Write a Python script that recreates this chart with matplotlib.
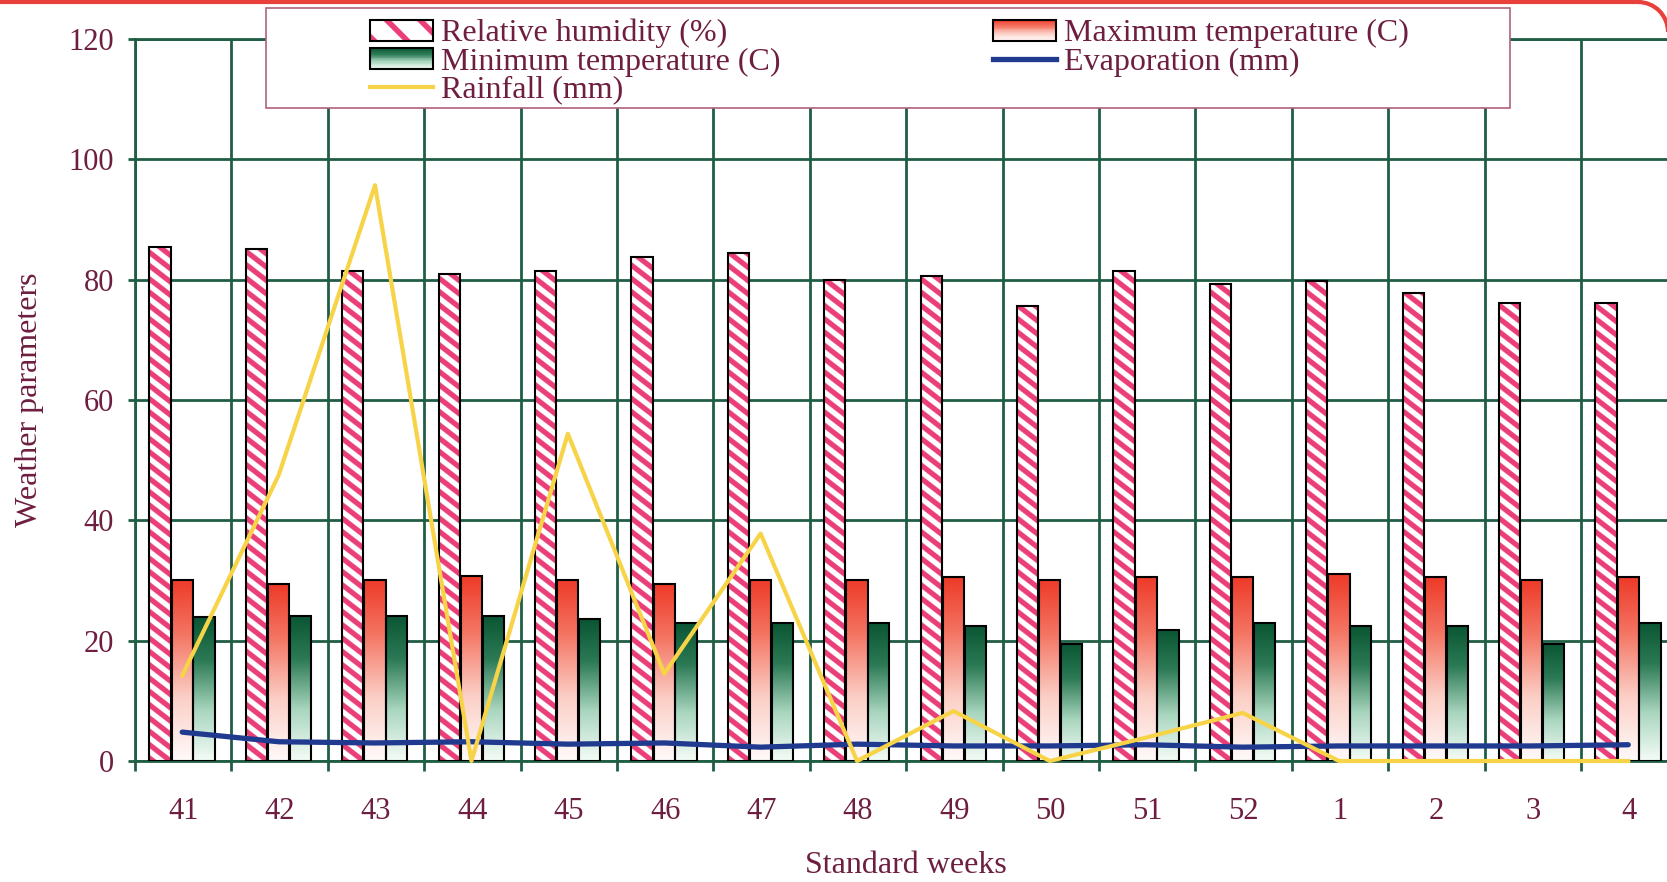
import numpy as np
import matplotlib
matplotlib.use("Agg")
import matplotlib.pyplot as plt
from matplotlib.patches import Rectangle, Patch, Arc
from matplotlib.colors import LinearSegmentedColormap, to_rgb
from matplotlib.legend_handler import HandlerBase
from matplotlib.lines import Line2D

# ---------------- data ----------------
weeks = ['41', '42', '43', '44', '45', '46', '47', '48', '49', '50', '51', '52',
         '1', '2', '3', '4']
rel_humidity = [85.4, 85.1, 81.4, 81.0, 81.5, 83.8, 84.5, 79.9, 80.6, 75.7, 81.5,
                79.2, 79.8, 77.8, 76.2, 76.2]
max_temp = [30.1, 29.4, 30.1, 30.8, 30.1, 29.4, 30.1, 30.1, 30.5, 30.1, 30.5, 30.5,
            31.0, 30.5, 30.1, 30.5]
min_temp = [23.9, 24.1, 24.1, 24.1, 23.6, 22.9, 23.0, 22.9, 22.5, 19.5, 21.8, 22.9,
            22.5, 22.5, 19.5, 23.0]
rainfall = [14.2, 47.5, 95.7, 0.0, 54.4, 14.5, 37.8, 0.0, 8.3, 0.0, 3.9, 8.0,
            0.0, 0.0, 0.0, 0.0]
evaporation = [4.8, 3.2, 3.0, 3.2, 2.8, 3.0, 2.3, 2.8, 2.5, 2.5, 2.7, 2.3,
               2.5, 2.5, 2.5, 2.7]
labels = ['Relative humidity (%)', 'Maximum temperature (C)',
          'Minimum temperature (C)', 'Evaporation (mm)', 'Rainfall (mm)']

# ---------------- style ----------------
plt.rcParams['font.family'] = ['Liberation Serif', 'DejaVu Serif']
plt.rcParams['hatch.linewidth'] = 4.0

grid_c = '#1f5e45'
text_c = '#6e1e40'
pink = '#ea3f78'
yellow = '#f7d348'
blue = '#1f3a8f'
red_cmap = LinearSegmentedColormap.from_list(
    'red', [(0, '#fffafa'), (0.35, '#fbcfc6'), (0.7, '#f47462'), (1, '#ee3a28')])
green_cmap = LinearSegmentedColormap.from_list(
    'green', [(0, '#f5fcf7'), (0.35, '#a9d6bf'), (0.7, '#2c7a55'), (1, '#0a5533')])

W, H = 1667, 882
AX_H = 722
fig = plt.figure(figsize=(W / 100, H / 100), dpi=100)
fig.patch.set_facecolor('white')
cat = 96.4
ax = fig.add_axes([135 / W, 121 / H, 16 * cat / W, AX_H / H])
px_per_y = AX_H / 120.0

x = np.arange(len(weeks))
bw = 0.22
off_rh, off_max, off_min = -0.24, -0.01, 0.215

# hatched relative humidity bars (diagonal stripes drawn as an image inside each bar)
rh_bars = ax.bar(x + off_rh, rel_humidity, bw, facecolor='none', edgecolor='black',
                 linewidth=1.5, zorder=3)
period = 13.3
slope = 0.8
pink_rgb = np.array(to_rgb(pink))
white_rgb = np.ones(3)
for p in rh_bars.patches:
    s = 4
    nx = max(int(round(p.get_width() * cat * s)), 1)
    ny = max(int(round(p.get_height() * px_per_y * s)), 1)
    u = (np.arange(nx) + 0.5) / s
    v = (np.arange(ny) + 0.5) / s
    phase = ((slope * u[None, :] + v[:, None]) % period) / period
    m = (phase < 0.5).astype(float)[..., None]
    rgb = m * pink_rgb + (1 - m) * white_rgb
    x0 = p.get_x()
    ax.imshow(rgb, extent=[x0, x0 + p.get_width(), 0, p.get_height()],
              origin='lower', aspect='auto', interpolation='antialiased', zorder=2)

grad = np.linspace(0, 1, 256).reshape(-1, 1)


def gradient_bars(xpos, vals, cmap):
    bars = ax.bar(xpos, vals, bw, facecolor='none', edgecolor='black',
                  linewidth=1.5, zorder=3)
    for p in bars.patches:
        x0, y0 = p.get_x(), p.get_y()
        im = ax.imshow(grad, extent=[x0, x0 + p.get_width(), y0, y0 + p.get_height()],
                       origin='lower', cmap=cmap, aspect='auto', zorder=2,
                       interpolation='bilinear')
        im.set_clip_path(p)
    return bars


gradient_bars(x + off_max, max_temp, red_cmap)
gradient_bars(x + off_min, min_temp, green_cmap)

ax.plot(x + off_max, evaporation, color=blue, lw=3.8, zorder=4,
        solid_capstyle='round', clip_on=False)
ax.plot(x + off_max, rainfall, color=yellow, lw=3.0, zorder=5, clip_on=False)

# ---------------- axes ----------------
ax.set_xlim(-0.5, 15.5)
ax.set_ylim(0, 120)
ax.set_yticks(range(0, 121, 20))
ax.set_xticks(x)
ax.set_xticklabels(weeks)
ax.set_xticks(np.arange(-0.5, len(weeks), 1), minor=True)
ax.set_axisbelow(True)
ax.grid(True, which='minor', axis='x', color=grid_c, lw=2)
ax.grid(True, which='major', axis='y', color=grid_c, lw=2)
ax.tick_params(axis='x', which='major', length=0, pad=26, labelsize=22,
               labelcolor=text_c)
ax.tick_params(axis='x', which='minor', length=7, width=2, color=grid_c)
ax.tick_params(axis='y', length=5, width=2, color=grid_c, pad=10, labelsize=22,
               labelcolor=text_c)
for s_ in ax.spines.values():
    s_.set_color(grid_c)
    s_.set_linewidth(2)
ax.set_xlabel('Standard weeks', fontsize=23, color=text_c, labelpad=18)
ax.set_ylabel('Weather parameters', fontsize=23, color=text_c, labelpad=18)


# ---------------- legend ----------------
class GradHandler(HandlerBase):
    def __init__(self, cmap):
        super().__init__()
        self.cmap = cmap

    def create_artists(self, legend, orig_handle, xdescent, ydescent, width, height,
                       fontsize, trans):
        arts = []
        n = 24
        for k in range(n):
            r = Rectangle((-xdescent, -ydescent + height * k / n), width,
                          height / n * 1.1, facecolor=self.cmap((k + 0.5) / n),
                          edgecolor='none', transform=trans)
            arts.append(r)
        arts.append(Rectangle((-xdescent, -ydescent), width, height, facecolor='none',
                              edgecolor='black', lw=1.5, transform=trans))
        return arts


class HatchHandler(HandlerBase):
    def create_artists(self, legend, orig_handle, xdescent, ydescent, width, height,
                       fontsize, trans):
        r = Rectangle((-xdescent, -ydescent), width, height, facecolor='white',
                      edgecolor=pink, lw=0, hatch='\\', transform=trans)
        b = Rectangle((-xdescent, -ydescent), width, height, facecolor='none',
                      edgecolor='black', lw=1.5, transform=trans)
        return [r, b]


h_rh = Patch(facecolor='white')
h_max = Patch(facecolor='red')
h_min = Patch(facecolor='green')
h_evap = Line2D([], [], color=blue, lw=3.8)
h_rain = Line2D([], [], color=yellow, lw=3.0)

frame = Rectangle((266 / W, 1 - 108 / H), (1510 - 266) / W, 100 / H,
                  transform=fig.transFigure, facecolor='white', edgecolor='#b0607e',
                  lw=1.2, zorder=4)
fig.add_artist(frame)

leg = fig.legend(handles=[h_rh, h_min, h_rain, h_max, h_evap],
                 labels=[labels[0], labels[2], labels[4], labels[1], labels[3]],
                 ncol=2, loc='upper left', bbox_to_anchor=(370 / W, 1 - 19 / H),
                 frameon=False, fontsize=23, handlelength=1.97, handleheight=0.63,
                 handletextpad=0.25, columnspacing=6.66, labelspacing=-0.03,
                 borderpad=0, borderaxespad=0,
                 handler_map={h_rh: HatchHandler(), h_max: GradHandler(red_cmap),
                              h_min: GradHandler(green_cmap)})
for t in leg.get_texts():
    t.set_color(text_c)

# scanned page border (red line at top, rounded corner at top right)
fig.add_artist(Line2D([0, 16.38], [8.80, 8.80], transform=fig.dpi_scale_trans,
                      color='#e8403a', lw=3, zorder=10))
fig.add_artist(Arc((16.38, 8.50), 0.6, 0.6, theta1=0, theta2=90,
                   transform=fig.dpi_scale_trans, color='#e8403a', lw=3, zorder=10))

fig.savefig('out.png', dpi=100)
